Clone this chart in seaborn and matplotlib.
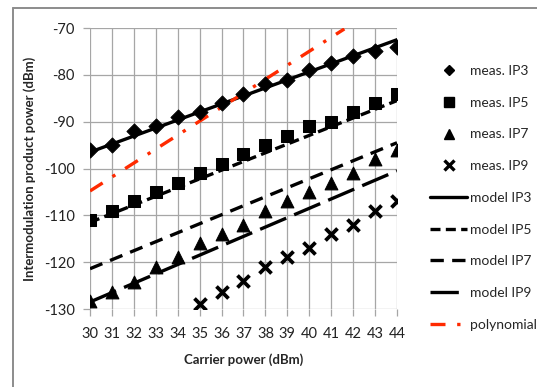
import matplotlib
matplotlib.use("Agg")
import matplotlib.pyplot as plt
import matplotlib.lines as mlines
import numpy as np
import pandas as pd
import seaborn as sns

# ---- data ----
carrier = [30, 31, 32, 33, 34, 35, 36, 37, 38, 39, 40, 41, 42, 43, 44]
meas_ip3 = [-96, -95, -92, -91, -89, -88, -86, -84, -82, -81, -79, -77.5, -76, -75, -74]
meas_ip5 = [-111, -109, -107, -105, -103, -101, -99, -97, -95, -93, -91, -90, -88, -86, -84]
meas_ip7 = [-128.3, -126.3, -124.3, -121, -119, -116, -114, -112, -109, -107, -105, -103, -101, -98, -96]
carrier_ip9 = [35, 36, 37, 38, 39, 40, 41, 42, 43, 44]
meas_ip9 = [-129, -126.3, -124, -121, -119, -117, -114, -112, -109, -107]

model_x = [30, 44]
model_ip3 = [-96.5, -72.5]
model_ip5 = [-111.5, -85.5]
model_ip7 = [-121.4, -94.5]
model_ip9 = [-128.5, -100.5]
poly_x = [30, 41.6]
poly_y = [-104.8, -70.2]

xticks = list(range(30, 45))
yticks = [-130, -120, -110, -100, -90, -80, -70]

sns.set_style("white")
plt.rcParams['font.family'] = ['Lato', 'DejaVu Sans']
plt.rcParams['axes.unicode_minus'] = False

W, H = 537, 387
fig = plt.figure(figsize=(W / 100, H / 100), dpi=100)
ax = fig.add_axes([90 / W, 1 - 309 / H, (397 - 90) / W, (309 - 28) / H])

blk = "black"
lw = 2.4

# model lines
sns.lineplot(x=model_x, y=model_ip3, ax=ax, color=blk, lw=lw)
l5 = sns.lineplot(x=model_x, y=model_ip5, ax=ax, color=blk, lw=lw).lines[-1]
l5.set_dashes((3, 1.6))
l7 = sns.lineplot(x=model_x, y=model_ip7, ax=ax, color=blk, lw=lw).lines[-1]
l7.set_dashes((4, 2.5))
l9 = sns.lineplot(x=model_x, y=model_ip9, ax=ax, color=blk, lw=lw).lines[-1]
l9.set_dashes((8.5, 2.6))
lp = sns.lineplot(x=poly_x, y=poly_y, ax=ax, color="#ff2a00", lw=lw).lines[-1]
lp.set_dashes((4.5, 3.5, 1, 3.5))

# measured points
sns.scatterplot(x=carrier, y=meas_ip3, ax=ax, marker="D", s=60, color=blk, edgecolor=blk, zorder=5)
sns.scatterplot(x=carrier, y=meas_ip5, ax=ax, marker="s", s=85, color=blk, edgecolor=blk, zorder=5)
sns.scatterplot(x=carrier, y=meas_ip7, ax=ax, marker="^", s=85, color=blk, edgecolor=blk, zorder=5)
sns.scatterplot(x=carrier_ip9, y=meas_ip9, ax=ax, marker="x", s=75, color=blk, linewidth=2.7, zorder=5)

ax.set_xlim(30, 44)
ax.set_ylim(-130, -70)
ax.set_xticks(xticks)
ax.set_yticks(yticks)
ax.set_yticklabels([str(v) for v in yticks])
ax.grid(True, color="#a6a6a6", lw=0.9)
ax.set_axisbelow(True)
for s in ax.spines.values():
    s.set_visible(False)
ax.tick_params(axis="both", which="both", length=5, width=0.9, color="#a6a6a6",
               labelsize=10.5, labelcolor="#222222", pad=6, direction="out",
               bottom=True, left=True)
ax.tick_params(axis="x", pad=8)

ax.set_xlabel("Carrier power (dBm)", fontsize=9.5, fontweight="bold", labelpad=9)
ax.set_ylabel("Intermodulation product power (dBm)", fontsize=9.5, fontweight="bold", labelpad=6)

# legend
handles = [
    mlines.Line2D([], [], color=blk, marker="D", ls="none", markersize=5.5),
    mlines.Line2D([], [], color=blk, marker="s", ls="none", markersize=6.5),
    mlines.Line2D([], [], color=blk, marker="^", ls="none", markersize=6.5),
    mlines.Line2D([], [], color=blk, marker="x", ls="none", markersize=7, markeredgewidth=2.4),
    mlines.Line2D([], [], color=blk, lw=lw),
    mlines.Line2D([], [], color=blk, lw=lw, dashes=(3, 1.6)),
    mlines.Line2D([], [], color=blk, lw=lw, dashes=(4, 2.5)),
    mlines.Line2D([], [], color=blk, lw=lw, dashes=(8.5, 2.6)),
    mlines.Line2D([], [], color="#ff2a00", lw=lw, dashes=(4.5, 3.5, 1, 3.5)),
]
labels = ["meas. IP3", "meas. IP5", "meas. IP7", "meas. IP9",
          "model IP3", "model IP5", "model IP7", "model IP9", "polynomial"]
fig.legend(handles, labels, loc="upper left", bbox_to_anchor=(423 / W, 1 - 58 / H),
           frameon=False, fontsize=10, handlelength=2.7, handletextpad=0.2,
           labelspacing=1.42, borderpad=0)

# outer frame (top and left edges visible)
fig.add_artist(mlines.Line2D([13 / W, 1], [1 - 7.5 / H, 1 - 7.5 / H], color="#8c8c8c", lw=1.4,
                             transform=fig.transFigure))
fig.add_artist(mlines.Line2D([13 / W, 13 / W], [0, 1 - 7.5 / H], color="#8c8c8c", lw=1.4,
                             transform=fig.transFigure))

fig.savefig("out.png", dpi=100)
